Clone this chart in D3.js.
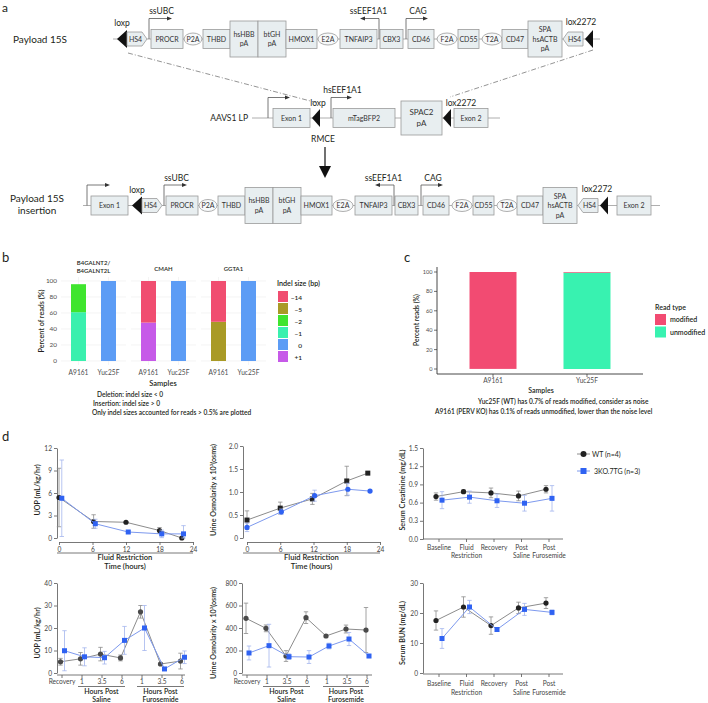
<!DOCTYPE html>
<html>
<head>
<meta charset="utf-8">
<script src="https://cdn.jsdelivr.net/npm/d3@7"></script>
<style>
  body { margin: 0; background: #fff; }
  text { font-family: Lato, "Open Sans", sans-serif; }
</style>
</head>
<body>
<svg id="fig" width="708" height="703"></svg>
<script>
////////// DATA //////////

// panel a : construct parts, [kind, label, start, end] along the schematic
const payloadParts = [
    ["tri", "", 117, 127], ["hs4R", "HS4", 127, 147], ["box", "PROCR", 151, 183],
    ["ell", "P2A", 184, 202], ["box", "THBD", 203, 230], ["tall", "hsHBB|pA", 230, 258],
    ["tall", "btGH|pA", 258, 286], ["box", "HMOX1", 286, 317], ["ell", "E2A", 318, 338],
    ["box", "TNFAIP3", 340, 377], ["box", "CBX3", 380, 403], ["box", "CD46", 408, 434],
    ["ell", "F2A", 437, 457], ["box", "CD55", 458, 479], ["ell", "T2A", 482, 502],
    ["box", "CD47", 502, 528], ["tall", "SPA|hsACTB|pA", 528, 562], ["hs4L", "HS4", 563, 583],
    ["tri", "", 585, 593]
];
const landingParts = [
    ["box", "Exon 1", 273, 310], ["tri", "", 312, 320], ["box", "mTagBFP2", 333, 395],
    ["mid", "SPAC2|pA", 401, 442], ["tri", "", 443, 451], ["box", "Exon 2", 454, 488]
];
// promoters: [x, end of arrow, label]
const payloadPromoters = [[149, 172, "ssUBC"], [379, 360, "ssEEF1A1"], [406, 428, "CAG"]];
const landingPromoters = [[268, 290, ""], [331, 352, "hsEEF1A1"]];

// panel b : indel sizes per gene / sample
const genesB = ["B4GALNT2/B4GALNT2L", "CMAH", "GGTA1"];
const samplesB = ["A9161", "Yuc25F"];
const indelSizes = ["\u221214", "\u22125", "\u22122", "\u22121", "0", "+1"];
const indelColors = ["#f04d70", "#a99a26", "#3fe52e", "#3af0ae", "#5c9cf5", "#c65ae8"];
// order of columns: B4 A9161, B4 Yuc25F, CMAH A9161, CMAH Yuc25F, GGTA1 A9161, GGTA1 Yuc25F
const readsM14 = [0, 0, 52, 0, 51, 0];
const readsM5  = [0, 0, 0, 0, 49, 0];
const readsM2  = [35, 0, 0, 0, 0, 0];
const readsM1  = [61, 0, 0, 0, 0, 0];
const reads0   = [0, 100, 0, 100, 0, 100];
const readsP1  = [0, 0, 48, 0, 0, 0];

// panel c : PERV read type
const samplesC = ["A9161", "Yuc25F"];
const readTypes = ["modified", "unmodified"];
const modifiedPct = [99.9, 0.7];
const unmodifiedPct = [0.1, 99.3];

// panel d : physiology
const frTicks = [0, 6, 12, 18, 24];
const frTimeWT = [0, 6.2, 12, 18, 22];
const frTimeKO = [0.5, 6.5, 12.4, 18.4, 22.3];
const uopFrWT = [5.4, 2.2, 2.1, 1.0, 0.0];
const uopFrWTsd = [3.9, 0.9, 0.1, 0.4, 0.1];
const uopFrKO = [5.3, 1.9, 0.8, 0.55, 0.55];
const uopFrKOsd = [5.1, 0.6, 0.2, 0.5, 1.1];

const osmTimeWT = [0, 6, 11.8, 18, 21.8];
const osmTimeKO = [0, 6.2, 12.2, 18.2, 22.2];
const osmFrWT = [0.39, 0.65, 0.85, 1.24, 1.41];
const osmFrWTsd = [0.2, 0.13, 0.12, 0.32, 0.03];
const osmFrKO = [0.23, 0.57, 0.92, 1.06, 1.02];
const osmFrKOsd = [0.09, 0.06, 0.12, 0.13, 0.02];

const serumCats = ["Baseline", "Fluid|Restriction", "Recovery", "Post|Saline", "Post|Furosemide"];
const creatWT = [0.70, 0.78, 0.76, 0.71, 0.82];
const creatWTsd = [0.06, 0.03, 0.08, 0.08, 0.06];
const creatKO = [0.64, 0.69, 0.63, 0.59, 0.67];
const creatKOsd = [0.14, 0.1, 0.11, 0.13, 0.21];

const postCats = ["Recovery", "1", "3.5", "6", "1", "3.5", "6"];
const uopPostWT = [5.0, 6.3, 8.4, 6.7, 27.2, 4.0, 5.3];
const uopPostWTsd = [1.5, 2.8, 3.0, 1.3, 2.8, 0.5, 3.5];
const uopPostKO = [9.9, 7.2, 6.8, 14.5, 20.0, 1.8, 7.0];
const uopPostKOsd = [8.9, 4.0, 2.8, 6.2, 10.0, 0.4, 2.8];

const osmPostWT = [486, 397, 151, 492, 329, 391, 382];
const osmPostWTsd = [135, 30, 48, 52, 10, 35, 200];
const osmPostKO = [178, 243, 145, 142, 240, 302, 151];
const osmPostKOsd = [62, 190, 25, 57, 25, 58, 10];

const bunWT = [17.5, 22.0, 15.8, 21.7, 23.3];
const bunWTsd = [3.2, 3.4, 2.9, 1.9, 1.8];
const bunKO = [11.5, 22.0, 14.5, 21.2, 20.2];
const bunKOsd = [3.3, 2.2, 0.6, 2.0, 0.8];

const groupNames = ["WT (n=4)", "3KO.7TG (n=3)"];

////////// HELPERS //////////

const svg = d3.select("#fig");
const ink = "#231f20";
const FONT = "Lato, 'Open Sans', sans-serif";

function label(g, x, y, s, size, anchor, weight, fill) {
    return g.append("text")
        .attr("x", x).attr("y", y)
        .attr("font-size", size)
        .attr("text-anchor", anchor || "start")
        .attr("font-weight", weight || 400)
        .attr("fill", fill || ink)
        .text(s);
}

function vlabel(g, x, y, s, size) {
    return g.append("text")
        .attr("transform", "translate(" + x + "," + y + ") rotate(-90)")
        .attr("font-size", size)
        .attr("text-anchor", "middle")
        .attr("font-weight", 600)
        .attr("fill", ink)
        .text(s);
}

function multiline(g, x, y, s, size, gap, anchor, weight) {
    const lines = s.split("|");
    lines.forEach((ln, i) => label(g, x, y + i * gap, ln, size, anchor || "middle", weight));
}

////////// PANEL A //////////

const gA = svg.append("g");
label(gA, 2, 12, "a", 12);

function drawPart(g, p, dx, cy) {
    const [kind, name, a, b] = p;
    const x0 = a + dx, x1 = b + dx, w = x1 - x0, cx = (x0 + x1) / 2;
    const boxFill = "#e8eef0", boxLine = "#9a9a9a";
    if (kind === "box" || kind === "tall" || kind === "mid") {
        const h = kind === "box" ? 19 : (kind === "tall" ? 36 : 34);
        g.append("rect").attr("x", x0).attr("y", cy - h / 2).attr("width", w).attr("height", h)
            .attr("fill", boxFill).attr("stroke", boxLine).attr("stroke-width", 0.8);
        const lines = name.split("|");
        const gap = kind === "mid" ? 11 : 9.5;
        const size = kind === "mid" ? 8 : 7;
        const top = cy - (lines.length - 1) * gap / 2 + 2.5;
        lines.forEach((ln, i) => label(g, cx, top + i * gap, ln, size, "middle", 400, "#333"));
    } else if (kind === "ell") {
        g.append("ellipse").attr("cx", cx).attr("cy", cy).attr("rx", w / 2).attr("ry", 6)
            .attr("fill", "#f7f9fa").attr("stroke", boxLine).attr("stroke-width", 0.8);
        label(g, cx, cy + 2.5, name, 7, "middle", 400, "#333");
    } else if (kind === "hs4R" || kind === "hs4L") {
        const pts = kind === "hs4R"
            ? [[x0, cy - 7], [x1 - 5, cy - 7], [x1, cy], [x1 - 5, cy + 7], [x0, cy + 7]]
            : [[x1, cy - 7], [x0 + 5, cy - 7], [x0, cy], [x0 + 5, cy + 7], [x1, cy + 7]];
        g.append("polygon").attr("points", pts.map(q => q.join(",")).join(" "))
            .attr("fill", boxFill).attr("stroke", boxLine).attr("stroke-width", 0.8);
        label(g, cx + (kind === "hs4R" ? -1.5 : 1.5), cy + 2.5, name, 7, "middle", 400, "#333");
    } else if (kind === "tri") {
        g.append("polygon").attr("points", [[x0, cy], [x1, cy - 9], [x1, cy + 9]].map(q => q.join(",")).join(" "))
            .attr("fill", "#111");
    }
}

function drawPromoter(g, pr, dx, cy) {
    const [x, to, name] = pr;
    const xa = x + dx, xb = to + dx, top = cy - 20.5;
    const dir = xb > xa ? 1 : -1;
    g.append("path").attr("d", "M" + xa + "," + cy + "V" + top + "H" + (xb - dir * 4))
        .attr("fill", "none").attr("stroke", "#555").attr("stroke-width", 0.8);
    g.append("path").attr("d", "M" + xb + "," + top + "l" + (-dir * 5) + ",-2v4z").attr("fill", "#333");
    if (name) label(g, (xa + xb) / 2 + dir * 1, top - 4.5, name, 8.5, "middle", 400);
}

function baseLine(g, x0, x1, cy) {
    g.append("line").attr("x1", x0).attr("x2", x1).attr("y1", cy).attr("y2", cy)
        .attr("stroke", "#9a9a9a").attr("stroke-width", 0.8);
}

// row 1 : payload
const cy1 = 39;
baseLine(gA, 113, 600, cy1);
payloadParts.forEach(p => drawPart(gA, p, 0, cy1));
payloadPromoters.forEach(p => drawPromoter(gA, p, 0, cy1));
label(gA, 13, cy1 + 4, "Payload 15S", 10);
label(gA, 122, cy1 - 13, "loxp", 8.5, "middle");
label(gA, 581, cy1 - 14, "lox2272", 8.5, "middle");

// row 2 : landing pad
const cy2 = 118;
baseLine(gA, 252, 500, cy2);
landingParts.forEach(p => drawPart(gA, p, 0, cy2));
landingPromoters.forEach(p => drawPromoter(gA, p, 0, cy2));
label(gA, 248, cy2 + 3, "AAVS1 LP", 8.5, "end");
label(gA, 318, cy2 - 12, "loxp", 8.5, "middle");
label(gA, 461, cy2 - 12, "lox2272", 8.5, "middle");

// dashed guides
[[128, 53, 318, 103], [593, 50, 450, 97]].forEach(d => {
    gA.append("line").attr("x1", d[0]).attr("y1", d[1]).attr("x2", d[2]).attr("y2", d[3])
        .attr("stroke", "#666").attr("stroke-width", 0.7).attr("stroke-dasharray", "5,2,1,2");
});

// RMCE arrow
label(gA, 323, 142, "RMCE", 8.5, "middle");
gA.append("line").attr("x1", 325).attr("x2", 325).attr("y1", 147).attr("y2", 168)
    .attr("stroke", "#111").attr("stroke-width", 1.2);
gA.append("polygon").attr("points", "319,166 331,166 325,178").attr("fill", "#111");

// row 3 : insertion
const cy3 = 205.5;
baseLine(gA, 83, 660, cy3);
drawPart(gA, ["box", "Exon 1", 91, 128], 0, cy3);
payloadParts.forEach(p => drawPart(gA, p, 15, cy3));
drawPart(gA, ["box", "Exon 2", 617, 651], 0, cy3);
drawPromoter(gA, [87, 110, ""], 0, cy3);
payloadPromoters.forEach(p => drawPromoter(gA, p, 15, cy3));
multiline(gA, 37, 201.5, "Payload 15S|insertion", 10, 12.5, "middle");
label(gA, 137, cy3 - 13, "loxp", 8.5, "middle");
label(gA, 597, cy3 - 14, "lox2272", 8.5, "middle");

////////// PANEL B //////////

const gB = svg.append("g");
label(gB, 2, 262, "b", 13);

const bY = d3.scaleLinear().domain([0, 100]).range([361, 281]);
const bFacet = d3.scaleBand().domain(genesB).range([61, 266]).paddingInner(5 / 70);
const bSample = d3.scaleBand().domain(samplesB).range([0, bFacet.bandwidth()])
    .paddingInner(0.5).paddingOuter(1 / 3);

const indelTable = [];
genesB.forEach((gene, gi) => samplesB.forEach((s, si) => {
    const k = gi * 2 + si;
    indelTable.push({
        gene: gene, sample: s,
        "\u221214": readsM14[k], "\u22125": readsM5[k], "\u22122": readsM2[k],
        "\u22121": readsM1[k], "0": reads0[k], "+1": readsP1[k]
    });
}));
const stackKeys = indelSizes.slice().reverse();
const indelColor = d3.scaleOrdinal().domain(indelSizes).range(indelColors);
const indelStack = d3.stack().keys(stackKeys)(indelTable);

genesB.forEach(gene => {
    const fx = bFacet(gene), fw = bFacet.bandwidth();
    const gf = gB.append("g").attr("transform", "translate(" + fx + ",0)");
    bY.ticks(4).forEach(t => {
        gf.append("line").attr("x1", 0).attr("x2", fw).attr("y1", bY(t)).attr("y2", bY(t))
            .attr("stroke", "#ececec").attr("stroke-width", 0.6);
    });
    samplesB.forEach(s => {
        const c = bSample(s) + bSample.bandwidth() / 2;
        gf.append("line").attr("x1", c).attr("x2", c).attr("y1", bY(0) + 4).attr("y2", bY(100) - 4)
            .attr("stroke", "#ececec").attr("stroke-width", 0.6);
        label(gf, c, 375, s, 6.6, "middle", 400, "#4d4d4d");
    });
    multiline(gB, fx + fw / 2, gene.includes("/") ? 265 : 271,
        gene.replace("/", "/|"), 6, 8, "middle", 600);
});

indelStack.forEach(layer => {
    gB.append("g").attr("fill", indelColor(layer.key))
        .selectAll("rect").data(layer.filter(d => d[1] > d[0])).join("rect")
        .attr("x", d => bFacet(d.data.gene) + bSample(d.data.sample))
        .attr("width", bSample.bandwidth())
        .attr("y", d => bY(d[1]))
        .attr("height", d => bY(d[0]) - bY(d[1]));
});

bY.ticks(4).forEach(t => label(gB, 57, bY(t) + 2.2, t, 6.4, "end", 400, "#4d4d4d"));
vlabel(gB, 44, 321, "Percent of reads (%)", 7.2);
label(gB, 163, 386, "Samples", 7.5, "middle", 600);

label(gB, 277, 286, "Indel size (bp)", 7.2, "start", 600);
indelSizes.forEach((s, i) => {
    gB.append("rect").attr("x", 278).attr("y", 291 + i * 12).attr("width", 10).attr("height", 11)
        .attr("fill", indelColor(s));
    label(gB, 302, 299.5 + i * 12, s, 6.5, "end", 600);
});

label(gB, 97, 397, "Deletion: indel size < 0", 6.6, "start", 600);
label(gB, 93, 406, "Insertion: indel size > 0", 6.6, "start", 600);
label(gB, 92, 415, "Only indel sizes accounted for reads > 0.5% are plotted", 6.6, "start", 600);

////////// PANEL C //////////

const gC = svg.append("g");
label(gC, 404, 262, "c", 13);

const cY = d3.scaleLinear().domain([0, 100]).range([369, 272]);
const cX = d3.scaleBand().domain(samplesC).range([437, 643]).paddingInner(0.5).paddingOuter(0.346);
const readColor = d3.scaleOrdinal().domain(readTypes).range(["#f24b72", "#38f2b0"]);
const readTable = samplesC.map((s, i) => ({ sample: s, modified: modifiedPct[i], unmodified: unmodifiedPct[i] }));
const readStack = d3.stack().keys(["unmodified", "modified"])(readTable);

readStack.forEach(layer => {
    gC.append("g").attr("fill", readColor(layer.key))
        .selectAll("rect").data(layer).join("rect")
        .attr("x", d => cX(d.data.sample))
        .attr("width", cX.bandwidth())
        .attr("y", d => cY(d[1]))
        .attr("height", d => cY(d[0]) - cY(d[1]));
});

gC.append("path").attr("d", "M437,267V374H643").attr("fill", "none")
    .attr("stroke", "#333").attr("stroke-width", 0.9);
cY.ticks(4).forEach(t => {
    gC.append("line").attr("x1", 434).attr("x2", 437).attr("y1", cY(t)).attr("y2", cY(t))
        .attr("stroke", "#333").attr("stroke-width", 0.7);
    label(gC, 432.5, cY(t) + 2, t, 5.6, "end", 400, "#4d4d4d");
});
samplesC.forEach(s => {
    const c = cX(s) + cX.bandwidth() / 2;
    gC.append("line").attr("x1", c).attr("x2", c).attr("y1", 374).attr("y2", 377)
        .attr("stroke", "#333").attr("stroke-width", 0.7);
    label(gC, c, 382.5, s, 6.6, "middle", 400, "#4d4d4d");
});
vlabel(gC, 419, 320, "Percent reads (%)", 6.8);
label(gC, 541, 393, "Samples", 7, "middle", 600);

label(gC, 655, 310, "Read type", 7, "start", 600);
readTypes.forEach((r, i) => {
    gC.append("rect").attr("x", 655).attr("y", 314 + i * 12.5).attr("width", 11).attr("height", 11)
        .attr("fill", readColor(r));
    label(gC, 670, 322 + i * 12.5, r, 7, "start", 600);
});

label(gC, 478, 404, "Yuc25F (WT) has 0.7% of reads modified, consider as noise", 6.6, "start", 600);
label(gC, 435, 414, "A9161 (PERV KO) has 0.1% of reads unmodified, lower than the noise level", 6.6, "start", 600);

////////// PANEL D //////////

const gD = svg.append("g");
label(gD, 2, 441, "d", 13);

const wtStyle = { marker: "#222", line: "#8c8c8c", err: "#8c8c8c" };
const wtStyleGrey = { marker: "#4a4a4a", line: "#8c8c8c", err: "#8c8c8c" };
const koStyle = { marker: "#2f62f2", line: "#7d99ee", err: "#a3b5ee" };

function styleAxis(sel) {
    sel.attr("font-family", FONT).attr("font-size", 6.6);
    sel.select(".domain").attr("stroke", "#555").attr("stroke-width", 0.8);
    sel.selectAll(".tick line").attr("stroke", "#555").attr("stroke-width", 0.8);
    sel.selectAll(".tick text").attr("fill", "#444");
}

function drawSeries(g, xs, ys, sds, y, st, shape) {
    const pts = xs.map((x, i) => ({
        x: x, y: y(ys[i]),
        hi: y(ys[i] + sds[i]),
        lo: y(Math.max(y.domain()[0], ys[i] - sds[i]))
    }));
    g.append("g").selectAll("path").data(pts).join("path")
        .attr("d", p => "M" + p.x + "," + p.hi + "V" + p.lo +
            "M" + (p.x - 2.2) + "," + p.hi + "h4.4M" + (p.x - 2.2) + "," + p.lo + "h4.4")
        .attr("stroke", st.err).attr("stroke-width", 0.8).attr("fill", "none");
    g.append("path").datum(pts)
        .attr("d", d3.line().x(p => p.x).y(p => p.y))
        .attr("fill", "none").attr("stroke", st.line).attr("stroke-width", 1);
    const m = g.append("g").attr("fill", st.marker);
    if (shape === "circle") {
        m.selectAll("circle").data(pts).join("circle")
            .attr("cx", p => p.x).attr("cy", p => p.y).attr("r", 2.6);
    } else {
        m.selectAll("rect").data(pts).join("rect")
            .attr("x", p => p.x - 2.5).attr("y", p => p.y - 2.5).attr("width", 5).attr("height", 5);
    }
}

function yAxis(g, y, x0, ticks, fmt) {
    g.append("g").attr("transform", "translate(" + x0 + ",0)")
        .call(d3.axisLeft(y).tickValues(ticks).tickFormat(fmt).tickSize(3).tickSizeOuter(0).tickPadding(2))
        .call(styleAxis);
}

function catAxis(g, x, y0, xa, xb, cats, labY) {
    g.append("line").attr("x1", xa).attr("x2", xb).attr("y1", y0).attr("y2", y0)
        .attr("stroke", "#555").attr("stroke-width", 0.8);
    cats.forEach((c, i) => {
        const cx = x(i);
        g.append("line").attr("x1", cx).attr("x2", cx).attr("y1", y0).attr("y2", y0 + 3)
            .attr("stroke", "#555").attr("stroke-width", 0.8);
        c.split("|").forEach((ln, j) => label(g, cx, labY + j * 8.5, ln, 6.6, "middle", 400, "#444"));
    });
}

function bracket(g, xa, xb, y0, text, size) {
    g.append("line").attr("x1", xa).attr("x2", xb).attr("y1", y0).attr("y2", y0)
        .attr("stroke", "#555").attr("stroke-width", 0.8);
    multiline(g, (xa + xb) / 2, y0 + 7, text, size, 8.5, "middle", 600);
}

// d1 : UOP during fluid restriction
const d1y = d3.scaleLinear().domain([0, 12]).range([538, 448]);
const d1x = d3.scaleLinear().domain([0, 24]).range([59, 193]);
yAxis(gD, d1y, 57, [0, 3, 6, 9, 12], d3.format("d"));
gD.append("g").attr("transform", "translate(0,542)")
    .call(d3.axisBottom(d1x).tickValues(frTicks).tickSize(3).tickSizeOuter(0).tickPadding(2))
    .call(styleAxis);
bracket(gD, 57, 193, 553, "Fluid Restriction|Time (hours)", 7.6);
vlabel(gD, 40, 490, "UOP (mL/kg/hr)", 7.2);
drawSeries(gD, frTimeWT.map(d1x), uopFrWT, uopFrWTsd, d1y, wtStyle, "circle");
drawSeries(gD, frTimeKO.map(d1x), uopFrKO, uopFrKOsd, d1y, koStyle, "square");

// d2 : urine osmolarity during fluid restriction
const d2y = d3.scaleLinear().domain([0, 2]).range([538, 446]);
const d2x = d3.scaleLinear().domain([0, 24]).range([247, 380]);
yAxis(gD, d2y, 243, [0, 0.5, 1, 1.5, 2], d => d === 0 ? "0" : d.toFixed(1));
gD.append("g").attr("transform", "translate(0,542)")
    .call(d3.axisBottom(d2x).tickValues(frTicks).tickSize(3).tickSizeOuter(0).tickPadding(2))
    .call(styleAxis);
bracket(gD, 243, 380, 553, "Fluid Restriction|Time (hours)", 7.6);
vlabel(gD, 216, 490, "Urine Osmolarity x 10\u00b3(osms)", 7.2);
drawSeries(gD, osmTimeWT.map(d2x), osmFrWT, osmFrWTsd, d2y, wtStyle, "square");
drawSeries(gD, osmTimeKO.map(d2x), osmFrKO, osmFrKOsd, d2y, koStyle, "circle");

// d3 : serum creatinine
const d3y = d3.scaleLinear().domain([0, 1.5]).range([539, 448]);
const serumX = d3.scalePoint().domain(d3.range(serumCats.length)).range([439, 549]);
yAxis(gD, d3y, 423, [0, 0.3, 0.6, 0.9, 1.2, 1.5], d3.format(".1f"));
catAxis(gD, serumX, 539, 423, 563, serumCats, 549.5);
vlabel(gD, 405, 490, "Serum Creatinine (mg/dL)", 7.2);
drawSeries(gD, serumCats.map((c, i) => serumX(i) - 3), creatWT, creatWTsd, d3y, wtStyle, "circle");
drawSeries(gD, serumCats.map((c, i) => serumX(i) + 3), creatKO, creatKOsd, d3y, koStyle, "square");

// legend
[[groupNames[0], wtStyle, "circle", 454], [groupNames[1], koStyle, "square", 471]].forEach(l => {
    const [name, st, shape, ly] = l;
    gD.append("line").attr("x1", 577).attr("x2", 590).attr("y1", ly).attr("y2", ly)
        .attr("stroke", st.line).attr("stroke-width", 1);
    if (shape === "circle") {
        gD.append("circle").attr("cx", 583.5).attr("cy", ly).attr("r", 3).attr("fill", st.marker);
    } else {
        gD.append("rect").attr("x", 580.5).attr("y", ly - 3).attr("width", 6).attr("height", 6).attr("fill", st.marker);
    }
    label(gD, shape === "circle" ? 592 : 594, ly + 2.5, name, 7, "start", 400);
});

// d4 : UOP after saline / furosemide
const d4y = d3.scaleLinear().domain([0, 40]).range([673, 583]);
const d4x = d3.scalePoint().domain(d3.range(postCats.length)).range([62, 182]);
yAxis(gD, d4y, 57, [0, 10, 20, 30, 40], d3.format("d"));
catAxis(gD, d4x, 675, 57, 185, postCats, 684);
bracket(gD, d4x(1) - 4, d4x(3) + 3, 686.5, "Hours Post|Saline", 7);
bracket(gD, d4x(4) - 5, d4x(6) + 2, 686.5, "Hours Post|Furosemide", 7);
vlabel(gD, 40, 633, "UOP (mL/kg/hr)", 7.2);
drawSeries(gD, postCats.map((c, i) => d4x(i) - 1.5), uopPostWT, uopPostWTsd, d4y, wtStyleGrey, "circle");
drawSeries(gD, postCats.map((c, i) => d4x(i) + 2.5), uopPostKO, uopPostKOsd, d4y, koStyle, "square");

// d5 : urine osmolarity after saline / furosemide
const d5y = d3.scaleLinear().domain([0, 800]).range([673, 583]);
const d5x = d3.scalePoint().domain(d3.range(postCats.length)).range([247, 367]);
yAxis(gD, d5y, 242, [0, 200, 400, 600, 800], d3.format("d"));
catAxis(gD, d5x, 675, 242, 372, postCats, 684);
bracket(gD, d5x(1) - 4, d5x(3) + 3, 686.5, "Hours Post|Saline", 7);
bracket(gD, d5x(4) - 4, d5x(6) + 2, 686.5, "Hours Post|Furosemide", 7);
vlabel(gD, 216, 633, "Urine Osmolarity x 10\u00b3(osms)", 7.2);
drawSeries(gD, postCats.map((c, i) => d5x(i) - 1), osmPostWT, osmPostWTsd, d5y, wtStyleGrey, "circle");
drawSeries(gD, postCats.map((c, i) => d5x(i) + 2), osmPostKO, osmPostKOsd, d5y, koStyle, "square");

// d6 : serum BUN
const d6y = d3.scaleLinear().domain([0, 30]).range([673, 583]);
yAxis(gD, d6y, 423, [0, 10, 20, 30], d3.format("d"));
catAxis(gD, serumX, 674, 423, 563, serumCats, 686);
vlabel(gD, 405, 633, "Serum BUN (mg/dL)", 7.2);
drawSeries(gD, serumCats.map((c, i) => serumX(i) - 3), bunWT, bunWTsd, d6y, wtStyle, "circle");
drawSeries(gD, serumCats.map((c, i) => serumX(i) + 3), bunKO, bunKOsd, d6y, koStyle, "square");
</script>
</body>
</html>
